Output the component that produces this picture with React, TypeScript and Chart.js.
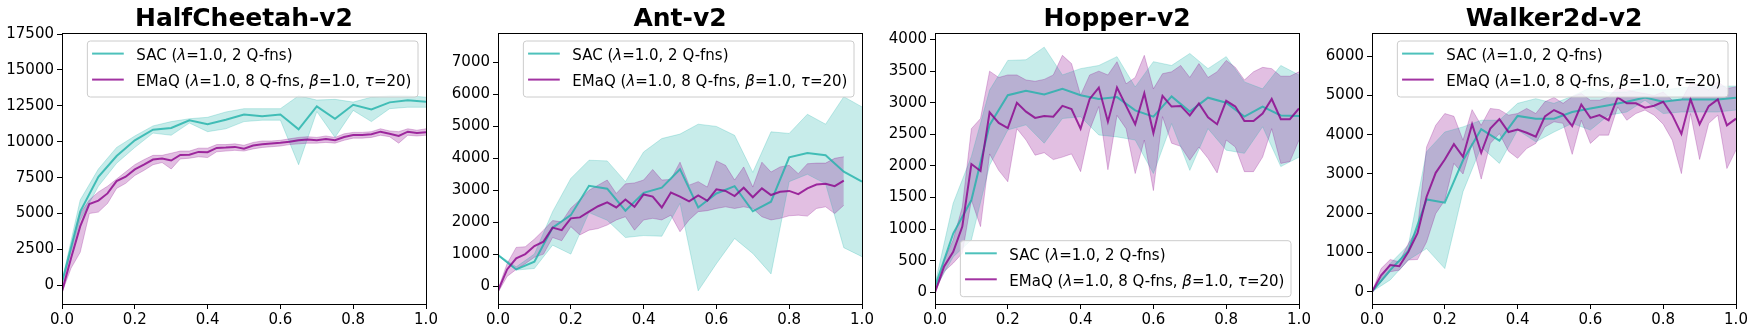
import React, { useEffect, useRef } from 'react';
import { Chart, registerables } from 'chart.js';
Chart.register(...registerables);

// ---------- data ----------
const titles = ['HalfCheetah-v2', 'Ant-v2', 'Hopper-v2', 'Walker2d-v2'];

const sacSteps = [0, 0.05, 0.1, 0.15, 0.2, 0.25, 0.3, 0.35, 0.4, 0.45, 0.5, 0.55, 0.6, 0.65, 0.7, 0.75, 0.8, 0.85, 0.9, 0.95, 1.0];
const emaqSteps = [0, 0.025, 0.05, 0.075, 0.1, 0.125, 0.15, 0.175, 0.2, 0.225, 0.25, 0.275, 0.3, 0.325, 0.35, 0.375, 0.4, 0.425, 0.45, 0.475, 0.5, 0.525, 0.55, 0.575, 0.6, 0.625, 0.65, 0.675, 0.7, 0.725, 0.75, 0.775, 0.8, 0.825, 0.85, 0.875, 0.9, 0.925, 0.95, 0.975, 1.0];
const emaqStepsAnt = [0, 0.025, 0.05, 0.075, 0.1, 0.125, 0.15, 0.175, 0.2, 0.225, 0.25, 0.275, 0.3, 0.325, 0.35, 0.375, 0.4, 0.425, 0.45, 0.475, 0.5, 0.525, 0.55, 0.575, 0.6, 0.625, 0.65, 0.675, 0.7, 0.725, 0.75, 0.775, 0.8, 0.825, 0.85, 0.875, 0.9, 0.925, 0.95];

const xTicks = [0, 0.2, 0.4, 0.6, 0.8, 1.0];
const hcTicks = [0, 2500, 5000, 7500, 10000, 12500, 15000, 17500];
const antTicks = [0, 1000, 2000, 3000, 4000, 5000, 6000, 7000];
const hopTicks = [0, 500, 1000, 1500, 2000, 2500, 3000, 3500, 4000];
const walkTicks = [0, 1000, 2000, 3000, 4000, 5000, 6000];

// HalfCheetah
const hcSacMean = [200, 5130, 7560, 9000, 10100, 10840, 10960, 11490, 11210, 11530, 11900, 11770, 11900, 10860, 12460, 11600, 12570, 12250, 12740, 12880, 12780];
const hcSacLow = [100, 4550, 6900, 8500, 9600, 10600, 10450, 11300, 10700, 10900, 11400, 11500, 11500, 8400, 12100, 10300, 12180, 11400, 12300, 12400, 12400];
const hcSacHigh = [300, 5940, 8100, 9600, 10400, 11100, 11400, 11600, 11700, 12070, 12300, 12300, 12300, 13200, 12900, 12950, 12760, 13100, 13200, 13200, 13100];
const hcEmaqMean = [-420, 1900, 4100, 5660, 5900, 6400, 7260, 7560, 8070, 8400, 8760, 8830, 8690, 9080, 9100, 9290, 9270, 9570, 9590, 9640, 9520, 9730, 9820, 9870, 9920, 10000, 10100, 10150, 10100, 10190, 10100, 10330, 10470, 10470, 10520, 10700, 10560, 10400, 10700, 10600, 10660];
const hcEmaqLow = [-500, 1200, 2300, 5000, 5100, 5700, 6750, 7100, 7650, 8000, 8400, 8550, 8100, 8800, 8850, 8950, 8900, 9300, 9350, 9400, 9350, 9500, 9600, 9650, 9700, 9800, 9850, 9900, 9900, 9950, 9900, 10100, 10250, 10250, 10300, 10450, 10350, 9900, 10450, 10400, 10450];
const hcEmaqHigh = [-300, 2600, 5000, 5940, 6500, 6900, 7400, 7900, 8400, 8750, 9050, 9050, 9200, 9350, 9350, 9550, 9550, 9800, 9800, 9850, 9750, 9950, 10050, 10050, 10100, 10200, 10300, 10350, 10300, 10400, 10300, 10550, 10650, 10650, 10700, 10900, 10750, 10700, 10900, 10800, 10900];

// Ant
const antSacMean = [970, 520, 760, 1830, 2220, 3140, 3050, 2360, 2920, 3080, 3660, 2460, 2900, 3130, 2340, 2640, 4030, 4170, 4100, 3580, 3270];
const antSacLow = [950, 500, 550, 1280, 1000, 2300, 2060, 1520, 1580, 1560, 2590, -150, 700, 1490, 1020, 380, 3270, 3500, 3200, 1200, 920];
const antSacHigh = [990, 600, 1000, 2330, 3370, 3940, 3920, 3270, 4200, 4620, 4760, 5070, 5000, 4720, 3560, 4830, 4780, 5380, 5070, 5930, 5610];
const antEmaqMean = [-150, 520, 870, 1000, 1250, 1390, 1830, 1750, 2120, 2150, 2330, 2500, 2620, 2460, 2710, 2480, 2870, 2800, 2460, 2930, 2800, 2650, 2840, 2670, 3030, 2980, 2820, 3080, 2780, 3060, 2850, 2950, 2980, 2880, 3060, 3180, 3200, 3130, 3300];
const antEmaqLow = [-200, 300, 520, 700, 900, 1000, 1520, 1420, 1860, 1600, 1750, 1800, 1910, 2070, 2170, 1750, 2070, 2120, 2070, 2220, 1700, 2070, 2330, 2360, 2430, 2480, 2430, 2480, 2430, 2170, 2070, 2120, 2200, 2220, 2190, 2430, 2480, 2270, 2530];
const antEmaqHigh = [-100, 700, 1210, 1230, 1470, 1750, 2050, 2010, 2440, 2700, 3000, 3160, 3320, 2900, 3200, 3230, 3320, 3650, 3320, 3340, 3880, 3160, 3270, 3100, 3920, 3780, 3320, 3730, 3100, 3880, 3570, 3730, 3780, 3520, 3830, 3850, 3850, 4000, 4050];

// Hopper
const hopSacMean = [90, 930, 1460, 2650, 3120, 3190, 3130, 3220, 3120, 3060, 3090, 2880, 2780, 3100, 2860, 3080, 3000, 2780, 2940, 2800, 2790];
const hopSacLow = [50, 560, 830, 2010, 2570, 2650, 2360, 2750, 2780, 2490, 2460, 2410, 1880, 2670, 1930, 2590, 2250, 2200, 2620, 1990, 2140];
const hopSacHigh = [130, 1410, 2150, 3200, 3670, 3680, 3880, 3440, 3540, 3590, 3730, 3250, 3650, 3590, 3780, 3540, 3730, 3330, 3220, 3590, 3440];
const hopEmaqMean = [0, 410, 640, 1040, 2030, 1920, 2850, 2680, 2600, 3000, 2860, 2760, 2790, 2780, 2950, 2900, 2590, 3060, 3240, 2700, 3240, 2950, 2660, 3150, 2520, 3110, 2940, 2950, 2800, 2990, 2770, 2660, 3030, 2940, 2710, 2710, 2830, 3060, 2740, 2740, 2910];
const hopEmaqLow = [0, 330, 460, 620, 1460, 1040, 2190, 1930, 1750, 2590, 2410, 2170, 2210, 2100, 2140, 2190, 1910, 2570, 2940, 1940, 2800, 2590, 1880, 2410, 1610, 2780, 2360, 2310, 2090, 2300, 2120, 1890, 2410, 2300, 1910, 1910, 2140, 2590, 2040, 2070, 2410];
const hopEmaqHigh = [0, 510, 830, 1350, 2590, 2750, 3500, 3400, 3440, 3440, 3360, 3340, 3370, 3440, 3750, 3620, 3120, 3440, 3500, 3440, 3650, 3300, 3400, 3750, 3220, 3460, 3490, 3590, 3400, 3620, 3400, 3490, 3670, 3560, 3360, 3490, 3560, 3540, 3420, 3420, 3490];

// Walker2d
const walkSacMean = [0, 550, 1040, 2350, 2270, 3350, 4140, 3850, 4480, 4410, 4410, 4580, 4670, 4750, 4840, 4950, 4840, 4900, 4900, 4900, 4940];
const walkSacLow = [0, 300, 810, 1100, 590, 2550, 3690, 3270, 4120, 3820, 4070, 4290, 4120, 4500, 4580, 4880, 4540, 4580, 4580, 4580, 4630];
const walkSacHigh = [0, 720, 1190, 3570, 4070, 4200, 4370, 4370, 4800, 4920, 4800, 4980, 5200, 5070, 5090, 5200, 5140, 5200, 5220, 5240, 5240];
const walkEmaqMean = [0, 420, 680, 650, 1020, 1490, 2420, 3030, 3370, 3760, 3440, 4270, 3540, 4160, 4400, 4070, 4130, 4050, 3950, 4470, 4630, 4520, 4220, 4770, 4430, 4500, 4370, 4950, 4800, 4800, 4690, 4740, 4840, 4500, 4020, 4910, 4270, 4730, 4900, 4240, 4410];
const walkEmaqLow = [0, 250, 510, 550, 810, 820, 1270, 1990, 2330, 3270, 3000, 3780, 2870, 3780, 4030, 3580, 3400, 3650, 3780, 4200, 4330, 4290, 3500, 4370, 3780, 3990, 3990, 4710, 4370, 4540, 4630, 4500, 4270, 3860, 3010, 4540, 3370, 4290, 4500, 3140, 3610];
const walkEmaqHigh = [0, 590, 820, 760, 1230, 1610, 3690, 4240, 4540, 4470, 3860, 4640, 4240, 4670, 4640, 4500, 4540, 4670, 4540, 4840, 4950, 4800, 4970, 5050, 4880, 4880, 4970, 5200, 5150, 5090, 5050, 5000, 5090, 4880, 4880, 5310, 5260, 5140, 5350, 5180, 5220];

type Seg = { t: string; i?: boolean };
const sacLabel: Seg[] = [{ t: 'SAC (' }, { t: 'λ', i: true }, { t: '=1.0, 2 Q-fns)' }];
const emaqLabel: Seg[] = [
  { t: 'EMaQ (' }, { t: 'λ', i: true }, { t: '=1.0, 8 Q-fns, ' }, { t: 'β', i: true },
  { t: '=1.0, ' }, { t: 'τ', i: true }, { t: '=20)' },
];

// ---------- styles ----------
const FONT = "'DejaVu Sans', 'Noto Sans', sans-serif";
const SAC_LINE = 'rgba(32,178,170,0.8)';
const SAC_FILL = 'rgba(32,178,170,0.25)';
const EMAQ_LINE = 'rgba(139,0,139,0.8)';
const EMAQ_FILL = 'rgba(139,0,139,0.25)';

const PLOT_LEFTS = [62, 498, 935, 1372];
const PLOT_W = 364;
const YAXIS_W = 62;
const CANVAS_W = YAXIS_W + PLOT_W + YAXIS_W;
const CANVAS_H = 333;

const panels = [
  { title: titles[0], ymin: -1300, ymax: 17570, yTicks: hcTicks, loc: 'upper',
    sacX: sacSteps, sacMean: hcSacMean, sacLow: hcSacLow, sacHigh: hcSacHigh,
    emX: emaqSteps, emMean: hcEmaqMean, emLow: hcEmaqLow, emHigh: hcEmaqHigh },
  { title: titles[1], ymin: -563, ymax: 7926, yTicks: antTicks, loc: 'upper',
    sacX: sacSteps, sacMean: antSacMean, sacLow: antSacLow, sacHigh: antSacHigh,
    emX: emaqStepsAnt, emMean: antEmaqMean, emLow: antEmaqLow, emHigh: antEmaqHigh },
  { title: titles[2], ymin: -185, ymax: 4104, yTicks: hopTicks, loc: 'lower',
    sacX: sacSteps, sacMean: hopSacMean, sacLow: hopSacLow, sacHigh: hopSacHigh,
    emX: emaqSteps, emMean: hopEmaqMean, emLow: hopEmaqLow, emHigh: hopEmaqHigh },
  { title: titles[3], ymin: -313, ymax: 6593, yTicks: walkTicks, loc: 'upper',
    sacX: sacSteps, sacMean: walkSacMean, sacLow: walkSacLow, sacHigh: walkSacHigh,
    emX: emaqSteps, emMean: walkEmaqMean, emLow: walkEmaqLow, emHigh: walkEmaqHigh },
];

const pts = (xs: number[], ys: number[]) => ys.map((y, i) => ({ x: xs[i], y }));

function segFont(italic?: boolean) {
  return `${italic ? 'italic ' : ''}15px ${FONT}`;
}

function makeOverlay(loc: string) {
  return {
    id: 'frameLegend',
    afterDraw(chart: any) {
      const { ctx, chartArea: ca } = chart;
      ctx.save();
      const a = (v: number) => Math.round(v - 0.5) + 0.5;
      ctx.strokeStyle = '#000';
      ctx.lineWidth = 1;
      ctx.strokeRect(a(ca.left), a(ca.top), a(ca.right) - a(ca.left), a(ca.bottom) - a(ca.top));

      const items = [
        { color: SAC_LINE, segs: sacLabel },
        { color: EMAQ_LINE, segs: emaqLabel },
      ];
      const measure = (segs: Seg[]) =>
        segs.reduce((w, s) => { ctx.font = segFont(s.i); return w + ctx.measureText(s.t).width; }, 0);
      const textW = Math.max(...items.map((it) => measure(it.segs)));
      const padL = 4.7, handle = 31.7, gap = 12.6, padR = 6.6;
      const w = padL + handle + gap + textW + padR;
      const h = 56;
      const x = ca.right - 8 - w;
      const y = loc === 'lower' ? ca.bottom - 7.3 - h : ca.top + 8;
      const r = 3;
      ctx.beginPath();
      ctx.moveTo(x + r, y);
      ctx.lineTo(x + w - r, y);
      ctx.arcTo(x + w, y, x + w, y + r, r);
      ctx.lineTo(x + w, y + h - r);
      ctx.arcTo(x + w, y + h, x + w - r, y + h, r);
      ctx.lineTo(x + r, y + h);
      ctx.arcTo(x, y + h, x, y + h - r, r);
      ctx.lineTo(x, y + r);
      ctx.arcTo(x, y, x + r, y, r);
      ctx.closePath();
      ctx.fillStyle = 'rgba(255,255,255,0.8)';
      ctx.fill();
      ctx.strokeStyle = '#cccccc';
      ctx.lineWidth = 1;
      ctx.stroke();

      items.forEach((it, k) => {
        const cy = y + 12.6 + k * 26;
        ctx.strokeStyle = it.color;
        ctx.lineWidth = 2;
        ctx.beginPath();
        ctx.moveTo(x + padL, cy);
        ctx.lineTo(x + padL + handle, cy);
        ctx.stroke();
        let tx = x + padL + handle + gap;
        ctx.fillStyle = '#000';
        ctx.textBaseline = 'alphabetic';
        ctx.textAlign = 'left';
        it.segs.forEach((s) => {
          ctx.font = segFont(s.i);
          ctx.fillText(s.t, tx, cy + 6.5);
          tx += ctx.measureText(s.t).width;
        });
      });
      ctx.restore();
    },
  };
}

function Panel({ idx }: { idx: number }) {
  const ref = useRef<HTMLCanvasElement>(null);
  useEffect(() => {
    const p = panels[idx];
    const bandStyle = (c: string) => ({
      borderColor: c, borderWidth: 1, pointRadius: 0, backgroundColor: c,
    });
    const chart = new Chart(ref.current as HTMLCanvasElement, {
      type: 'line',
      data: {
        datasets: [
          { label: 'sac-low', data: pts(p.sacX, p.sacLow), fill: false, order: 3, ...bandStyle(SAC_FILL) },
          { label: 'sac-high', data: pts(p.sacX, p.sacHigh), fill: '-1', order: 3, ...bandStyle(SAC_FILL) },
          { label: 'emaq-low', data: pts(p.emX, p.emLow), fill: false, order: 2, ...bandStyle(EMAQ_FILL) },
          { label: 'emaq-high', data: pts(p.emX, p.emHigh), fill: '-1', order: 2, ...bandStyle(EMAQ_FILL) },
          { label: 'SAC (λ=1.0, 2 Q-fns)', data: pts(p.sacX, p.sacMean), fill: false, order: 1,
            borderColor: SAC_LINE, borderWidth: 2, pointRadius: 0 },
          { label: 'EMaQ (λ=1.0, 8 Q-fns, β=1.0, τ=20)', data: pts(p.emX, p.emMean), fill: false, order: 0,
            borderColor: EMAQ_LINE, borderWidth: 2, pointRadius: 0 },
        ],
      },
      options: {
        animation: false,
        responsive: false,
        devicePixelRatio: 1,
        layout: { padding: { left: 0, right: YAXIS_W, top: 0, bottom: 0 } },
        plugins: {
          legend: { display: false },
          tooltip: { enabled: false },
          filler: { drawTime: 'beforeDatasetsDraw' },
          title: {
            display: true, text: p.title, color: '#000', fullSize: false,
            font: { family: FONT, size: 25, weight: 'bold', lineHeight: '27px' },
            padding: { top: 6, bottom: 0 },
          },
        },
        scales: {
          x: {
            type: 'linear', min: 0, max: 1,
            afterBuildTicks: (ax: any) => { ax.ticks = xTicks.map((v) => ({ value: v })); },
            afterFit: (ax: any) => { ax.height = 29; },
            border: { display: false },
            grid: { display: true, drawOnChartArea: false, drawTicks: true, tickLength: 5, color: '#000' },
            ticks: {
              color: '#000', font: { family: FONT, size: 15 }, padding: 2, maxRotation: 0,
              callback: (v: any) => Number(v).toFixed(1),
            },
          },
          y: {
            type: 'linear', min: p.ymin, max: p.ymax,
            afterBuildTicks: (ax: any) => { ax.ticks = p.yTicks.map((v) => ({ value: v })); },
            afterFit: (ax: any) => { ax.width = YAXIS_W; },
            border: { display: false },
            grid: { display: true, drawOnChartArea: false, drawTicks: true, tickLength: 5, color: '#000' },
            ticks: {
              color: '#000', font: { family: FONT, size: 15 }, padding: 3,
              callback: (v: any) => String(v),
            },
          },
        },
      } as any,
      plugins: [makeOverlay(p.loc)],
    });
    return () => chart.destroy();
  }, [idx]);
  return (
    <canvas
      ref={ref}
      width={CANVAS_W}
      height={CANVAS_H}
      style={{ position: 'absolute', left: PLOT_LEFTS[idx] - YAXIS_W, top: 0, width: CANVAS_W, height: CANVAS_H }}
    />
  );
}

export default function App() {
  return (
    <div style={{ position: 'absolute', left: 0, top: 0, width: 1754, height: 333, overflow: 'hidden', background: '#fff' }}>
      {panels.map((_, i) => <Panel key={i} idx={i} />)}
    </div>
  );
}
